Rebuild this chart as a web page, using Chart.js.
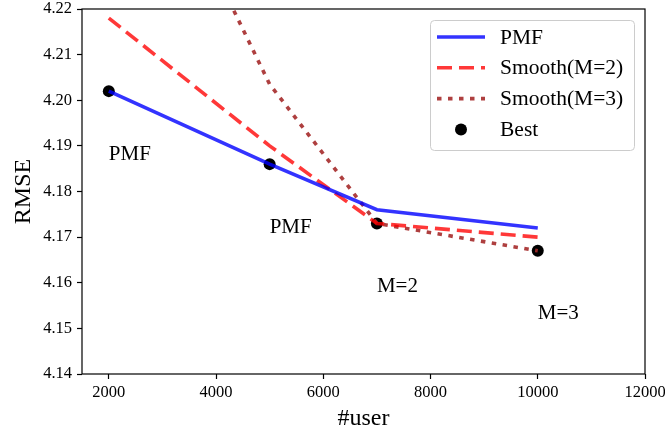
<!DOCTYPE html>
<html>
<head>
<meta charset="utf-8">
<script src="https://cdn.jsdelivr.net/npm/chart.js@4/dist/chart.umd.min.js"></script>
<style>
  html, body { margin: 0; padding: 0; background: #fff; }
  #wrap { width: 665px; height: 427px; }
</style>
</head>
<body>
<div id="wrap"><canvas id="rmse"></canvas></div>
<script>
// data
var users = [2000, 5000, 7000, 10000];
var pmf = [4.202, 4.186, 4.176, 4.172];
var smoothM2 = [4.218, 4.190, 4.173, 4.170];
var smoothM3 = [4.276, 4.2035, 4.173, 4.167];
var best = [4.202, 4.186, 4.173, 4.167];

var xTicks = [2000, 4000, 6000, 8000, 10000, 12000];
var yTicks = [4.14, 4.15, 4.16, 4.17, 4.18, 4.19, 4.20, 4.21, 4.22];

// text labels placed under the best points
var noteText = ["PMF", "PMF", "M=2", "M=3"];
var noteX = [2000, 5000, 7000, 10000];
var noteY = [4.187, 4.171, 4.158, 4.152];

var serif = "'Liberation Serif', 'Times New Roman', serif";

function pts(ys) {
    return users.map(function (u, i) { return { x: u, y: ys[i] }; });
}

var framePlugin = {
    id: "frame",
    afterDatasetsDraw: function (chart) {
        var a = chart.chartArea, ctx = chart.ctx;
        ctx.save();
        ctx.strokeStyle = "#000";
        ctx.lineWidth = 1.2;
        ctx.strokeRect(a.left, a.top, a.right - a.left, a.bottom - a.top);
        ctx.restore();
    },
    afterDraw: function (chart) {
        var ctx = chart.ctx, xs = chart.scales.x, ys = chart.scales.y;
        ctx.save();
        // annotations
        ctx.fillStyle = "#000";
        ctx.font = "21px " + serif;
        ctx.textAlign = "left";
        ctx.textBaseline = "alphabetic";
        for (var i = 0; i < noteText.length; i++) {
            ctx.fillText(noteText[i], xs.getPixelForValue(noteX[i]), ys.getPixelForValue(noteY[i]));
        }
        // legend
        var a = chart.chartArea;
        var bx = a.right - 215, by = a.top + 11, bw = 204, bh = 130;
        ctx.fillStyle = "rgba(255,255,255,0.8)";
        ctx.strokeStyle = "#cccccc";
        ctx.lineWidth = 1;
        ctx.beginPath();
        ctx.roundRect(bx + 0.5, by + 0.5, bw, bh, 4);
        ctx.fill();
        ctx.stroke();
        ctx.font = "21.5px " + serif;
        ctx.textBaseline = "middle";
        chart.data.datasets.forEach(function (ds, k) {
            var yy = by + 17 + k * 30.8;
            var x0 = bx + 7, x1 = bx + 55;
            if (ds.showLine === false) {
                ctx.fillStyle = ds.pointBackgroundColor;
                ctx.beginPath();
                ctx.arc((x0 + x1) / 2, yy, ds.pointRadius, 0, Math.PI * 2);
                ctx.fill();
            } else {
                ctx.strokeStyle = ds.borderColor;
                ctx.lineWidth = ds.borderWidth;
                ctx.setLineDash(ds.borderDash || []);
                ctx.lineCap = "butt";
                ctx.beginPath();
                ctx.moveTo(x0, yy);
                ctx.lineTo(x1, yy);
                ctx.stroke();
                ctx.setLineDash([]);
            }
            ctx.fillStyle = "#000";
            ctx.fillText(ds.label, bx + 70, yy + 1);
        });
        ctx.restore();
    }
};

var ctx1 = document.getElementById("rmse").getContext("2d");
var myChart = new Chart(ctx1, {
    type: "scatter",
    data: {
        datasets: [{
            label: "PMF",
            data: pts(pmf),
            showLine: true,
            borderColor: "rgba(0,0,255,0.8)",
            borderWidth: 3.6,
            pointRadius: 0,
            clip: 0
        }, {
            label: "Smooth(M=2)",
            data: pts(smoothM2),
            showLine: true,
            borderColor: "rgba(255,0,0,0.78)",
            borderWidth: 3.6,
            borderDash: [15, 7],
            pointRadius: 0,
            clip: 0
        }, {
            label: "Smooth(M=3)",
            data: pts(smoothM3),
            showLine: true,
            borderColor: "rgba(165,42,42,0.9)",
            borderWidth: 3.6,
            borderDash: [4.5, 6.5],
            pointRadius: 0,
            clip: 0
        }, {
            label: "Best",
            data: pts(best),
            showLine: false,
            pointRadius: 6,
            pointBackgroundColor: "#000",
            pointBorderWidth: 0,
            clip: false
        }]
    },
    options: {
        responsive: true,
        maintainAspectRatio: false,
        animation: false,
        events: [],
        layout: { padding: { left: 0, right: 20, top: 9, bottom: 0 } },
        plugins: {
            legend: { display: false },
            tooltip: { enabled: false }
        },
        scales: {
            x: {
                type: "linear",
                min: 1500,
                max: 12000,
                afterBuildTicks: function (scale) {
                    scale.ticks = xTicks.map(function (v) { return { value: v }; });
                },
                afterFit: function (scale) {
                    scale.height = 53;
                    scale.paddingLeft = 0;
                    scale.paddingRight = 0;
                },
                ticks: {
                    color: "#000",
                    padding: 4,
                    maxRotation: 0,
                    autoSkip: false,
                    font: { family: serif, size: 16.5 },
                    callback: function (v) { return String(v); }
                },
                grid: { drawOnChartArea: false, drawTicks: true, tickLength: 5, color: "#000", tickWidth: 1.2 },
                border: { display: false },
                title: {
                    display: true,
                    text: "#user",
                    color: "#000",
                    font: { family: serif, size: 24, lineHeight: 1 },
                    padding: { top: 0, bottom: -4 }
                }
            },
            y: {
                min: 4.14,
                max: 4.22,
                afterBuildTicks: function (scale) {
                    scale.ticks = yTicks.map(function (v) { return { value: v }; });
                },
                afterFit: function (scale) {
                    scale.width = 82;
                    scale.paddingTop = 0;
                    scale.paddingBottom = 0;
                },
                ticks: {
                    color: "#000",
                    padding: 5,
                    autoSkip: false,
                    font: { family: serif, size: 16.5 },
                    callback: function (v) { return Number(v).toFixed(2); }
                },
                grid: { drawOnChartArea: false, drawTicks: true, tickLength: 5, color: "#000", tickWidth: 1.2 },
                border: { display: false },
                title: {
                    display: true,
                    text: "RMSE",
                    color: "#000",
                    font: { family: serif, size: 24, lineHeight: 1 },
                    padding: { top: 12, bottom: 0 }
                }
            }
        }
    },
    plugins: [framePlugin]
});
</script>
</body>
</html>
